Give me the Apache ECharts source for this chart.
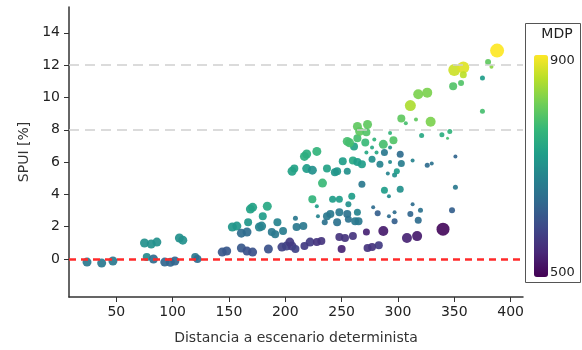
<!DOCTYPE html>
<html>
<head>
<meta charset="utf-8">
<script src="https://cdn.jsdelivr.net/npm/echarts@6/dist/echarts.min.js"></script>
<style>html,body{margin:0;padding:0;background:#fff}#c{width:582px;height:350px}</style>
</head>
<body>
<div id="c"></div>
<script>
// Distancia a escenario determinista
var distancia = [
  24,37,47,75,81,86,77,83,93,98,102,106,109,120,122,
  144,148,153,157,161,166,161,166,167,169,171,171,177,179,180,184,185,193,188,191,198,197,201,204,206,209,209,210,216,217,222,228,232,224,228,229,237,240,242,248,235,246,248,255,256,256,259,248,253,250,260,264,262,265,
  206,208,219,224,217,219,228,233,237,244,246,255,251,260,264,268,261,255,257,264,271,264,266,273,272,279,277,281,272,287,293,296,288,293,302,277,284,293,303,291,297,299,268,288,292,302,313,320,318,311,278,282,292,297,297,351,351,348,272,287,273,277,283,308,317,340,313,326,330,
  303,307,316,329,311,318,326,349,356,350,358,358,375,375,380,383,388,339,346,344,321
];
// SPUI [%]
var spui = [
  -0.19,-0.25,-0.12,0.99,0.93,1.05,0.12,0.0,-0.19,-0.2,-0.12,1.3,1.17,0.12,0.0,
  0.43,0.5,1.98,2.04,1.6,1.67,0.68,0.49,2.28,3.09,3.2,0.43,1.98,2.04,2.65,3.27,0.62,2.28,1.67,1.54,1.73,0.74,0.8,1.05,0.8,0.62,2.53,1.98,2.04,0.8,1.05,1.05,1.11,3.7,3.27,2.65,2.65,2.78,3.7,3.7,2.28,2.28,2.9,2.78,2.47,3.39,3.89,1.36,1.3,0.62,1.42,2.9,2.34,2.34,
  5.43,5.6,5.6,5.5,6.35,6.5,6.66,4.7,5.6,5.37,5.43,5.43,6.05,6.1,6.0,5.86,6.97,7.28,7.2,7.47,7.22,8.2,7.9,8.33,7.84,7.4,6.9,6.6,6.6,7.1,7.8,7.35,6.6,6.9,6.48,6.17,5.86,6.0,5.92,5.3,5.2,5.43,4.63,4.26,3.89,4.32,3.39,3.02,2.4,2.78,3.2,2.84,2.65,2.9,2.34,6.35,4.44,3.02,1.67,1.73,0.68,0.74,0.86,1.3,1.42,1.85,6.1,5.8,5.92,
  8.7,8.4,8.64,8.5,9.5,10.2,10.3,10.7,10.9,11.7,11.85,11.4,11.2,9.14,12.2,11.9,12.9,7.7,7.9,7.47,7.65
];
// MDP
var mdp = [
  660,660,660,700,700,700,690,640,630,630,630,700,700,660,640,
  610,610,710,710,640,640,610,600,710,730,730,600,680,680,720,740,600,680,660,660,670,580,580,570,570,580,660,660,660,570,570,560,560,760,720,680,660,660,720,720,650,650,660,650,650,700,720,560,560,540,560,680,660,660,
  730,730,720,700,750,750,760,770,730,710,710,700,720,740,720,720,730,780,780,780,770,800,800,800,790,760,740,740,740,780,760,790,660,700,640,700,680,690,670,680,700,720,660,720,690,700,640,650,640,630,640,620,640,640,620,630,660,620,540,530,560,560,570,540,530,510,680,640,650,
  800,780,800,820,850,820,820,790,790,870,880,860,720,780,800,830,900,750,760,780,740
];
// marker size
var tam = [
  9,9,9,9,9,9,8,9,9,9,9,9,9,8,8,
  9,9,9,9,9,9,9,9,8,9,9,9,9,9,8,9,9,8,8,8,8,9,9,9,9,8,5,8,8,8,9,8,8,8,4,4,8,8,7,7,6,8,8,8,7,6,7,8,8,8,8,7,8,8,
  9,8,9,9,9,9,9,9,8,8,8,7,8,8,8,8,8,9,9,8,8,9,9,9,8,4,4,4,4,9,4,8,7,4,7,7,7,4,7,4,5,6,7,7,4,7,4,5,7,6,4,6,4,4,6,4,5,6,7,10,8,8,8,10,10,13,4,5,4,
  8,4,4,10,11,10,10,8,6,12,12,7,5,5,6,4,14,5,5,3,5
];
var xTicks = [50,100,150,200,250,300,350,400];
var yTicks = [0,2,4,6,8,10,12,14];
var refLines = [8,12];
var zeroLine = 0;

var viridis = ['#440154','#482878','#3e4989','#31688e','#26828e','#1f9e89','#35b779','#6ece58','#b5de2b','#fde725'];
var data = distancia.map(function(d,i){return [d, spui[i], mdp[i], tam[i]];});
var font = 'DejaVu Sans';
var chart = echarts.init(document.getElementById('c'), null, {renderer:'canvas'});
chart.setOption({
  animation:false,
  backgroundColor:'#fff',
  textStyle:{fontFamily:font},
  grid:{left:69,right:59,top:7,bottom:52,containLabel:false},
  xAxis:{
    type:'value', min:8, max:411,
    name:'Distancia a escenario determinista', nameLocation:'middle', nameGap:34,
    nameTextStyle:{fontSize:14,color:'#333',fontFamily:font},
    axisLine:{show:true,onZero:false,lineStyle:{color:'#333',width:1.5}},
    axisTick:{show:true,length:5,customValues:xTicks,lineStyle:{color:'#333'}},
    axisLabel:{customValues:xTicks,fontSize:14,color:'#222',margin:8},
    splitLine:{show:false}
  },
  yAxis:{
    type:'value', min:-2.35, max:15.6,
    name:'SPUI [%]', nameLocation:'middle', nameGap:37, nameRotate:90,
    nameTextStyle:{fontSize:14,color:'#333',fontFamily:font},
    axisLine:{show:true,onZero:false,lineStyle:{color:'#333',width:1.5}},
    axisTick:{show:true,length:5,customValues:yTicks,lineStyle:{color:'#333'}},
    axisLabel:{customValues:yTicks,fontSize:14,color:'#222',margin:9},
    splitLine:{show:false}
  },
  visualMap:{
    type:'continuous', min:500, max:900, dimension:2, seriesIndex:1,
    calculable:false, show:true, text:null,
    left:529, top:50, itemWidth:14, itemHeight:222, padding:5,
    inRange:{color:viridis}
  },
  graphic:[
    {type:'rect', shape:{x:525.5,y:23.5,width:55,height:259}, style:{fill:'none',stroke:'#555',lineWidth:1}, silent:true},
    {type:'text', x:557, y:34, style:{text:'MDP',fontSize:14,fontFamily:font,fill:'#222',align:'center',verticalAlign:'middle'}},
    {type:'text', x:550, y:61, style:{text:'900',fontSize:13,fontFamily:font,fill:'#222',align:'left',verticalAlign:'middle'}},
    {type:'text', x:550, y:273, style:{text:'500',fontSize:13,fontFamily:font,fill:'#222',align:'left',verticalAlign:'middle'}}
  ],
  series:[{
    type:'line',
    data:[],
    z:1,
    markLine:{
      silent:true, symbol:'none', label:{show:false}, animation:false,
      data:[
        {yAxis:refLines[0], lineStyle:{color:'#cfcfcf',type:[10,6],width:1.5}},
        {yAxis:refLines[1], lineStyle:{color:'#cfcfcf',type:[10,6],width:1.5}}
      ]
    }
  },{
    type:'scatter',
    data:data,
    z:2,
    symbolSize:function(v){return v[3];},
    itemStyle:{opacity:0.92}
  },{
    type:'line',
    data:[],
    z:3,
    markLine:{
      silent:true, symbol:'none', label:{show:false}, animation:false,
      data:[
        {yAxis:zeroLine, lineStyle:{color:'#ff2a2a',type:[7,5],width:2.5,opacity:1}}
      ]
    }
  }]
});
</script>
</body>
</html>
